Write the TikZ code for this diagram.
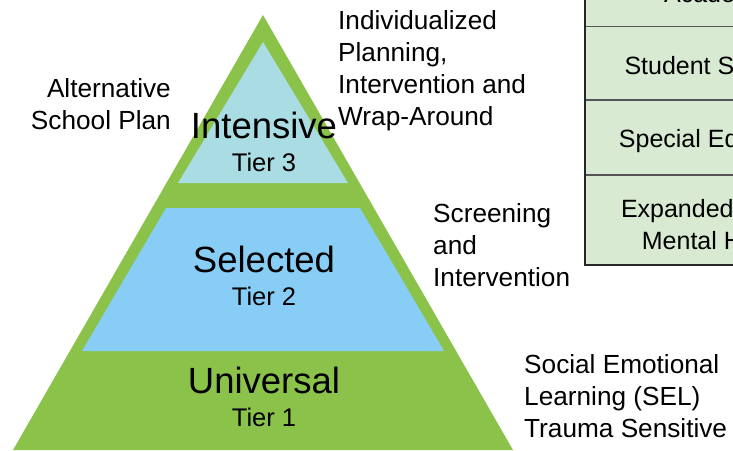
\documentclass[tikz,border=0pt]{standalone}
\usepackage{fontspec}
\setmainfont{Liberation Sans}
\definecolor{pgreen}{HTML}{8BC34A}
\definecolor{tierthree}{HTML}{A9DCE3}
\definecolor{tiertwo}{HTML}{88CDF6}
\definecolor{tablefill}{HTML}{D9EAD3}
\definecolor{tableedge}{HTML}{555555}
\begin{document}
\begin{tikzpicture}[x=1pt,y=-1pt,
  side/.style={font=\fontsize{26.2}{32}\selectfont, inner sep=0pt},
  big/.style={font=\fontsize{36.5}{40}\selectfont, inner sep=0pt, anchor=base},
  tierlbl/.style={font=\fontsize{25.5}{30}\selectfont, inner sep=0pt, anchor=base},
  cell/.style={font=\fontsize{25}{32}\selectfont, inner sep=0pt, anchor=base, align=center}]
\useasboundingbox (0,0) rectangle (733,450);
\clip (0,0) rectangle (733,450);
\fill[white] (0,0) rectangle (733,450);
% pyramid
\fill[pgreen] (263,15) -- (13,450) -- (513,450) -- cycle;
\fill[tierthree] (263,42) -- (178,183) -- (348,183) -- cycle;
\fill[tiertwo] (166,208) -- (360,208) -- (444,351) -- (82,351) -- cycle;
% tier labels
\node[big] (intensive) at (264,138) {Intensive};
\node[tierlbl] (t3) at (264,171) {Tier 3};
\node[big] (selected) at (264,272) {Selected};
\node[tierlbl] (t2) at (264,305) {Tier 2};
\node[big] (universal) at (264,393) {Universal};
\node[tierlbl] (t1) at (264,426) {Tier 1};
% side texts (base anchor = last line's baseline)
\node[side, anchor=base east, align=right] (alt) at (171,129) {Alternative\\School Plan};
\node[side, anchor=base west, align=left] (indiv) at (338,125) {Individualized\\Planning,\\Intervention and\\Wrap-Around};
\node[side, anchor=base west, align=left] (screen) at (433,286) {Screening\\and\\Intervention};
\node[side, anchor=base west, align=left] (sel) at (524,437) {Social Emotional\\Learning (SEL)\\Trauma Sensitive};
% table
\fill[tablefill] (585,-20) rectangle (900,265);
\draw[tableedge, line width=1.3pt] (585,26.7) -- (900,26.7);
\draw[tableedge, line width=1.3pt] (585,100) -- (900,100);
\draw[tableedge, line width=1.3pt] (585,175) -- (900,175);
\draw[black!85, line width=1.5pt] (585,-20) -- (585,265) -- (900,265);
\node[cell] (acad) at (719,2) {Academic};
\node[cell] (stud) at (719,74) {Student Services};
\node[cell] (sped) at (719,147) {Special Education};
\node[cell] (exp) at (719,249) {Expanded School\\Mental Health};
\end{tikzpicture}
\end{document}
